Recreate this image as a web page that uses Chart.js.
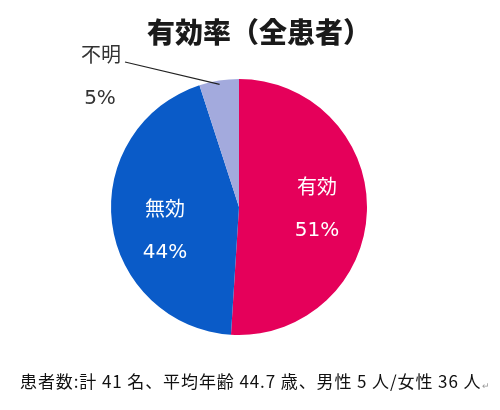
<!DOCTYPE html>
<html>
<head>
<meta charset="utf-8">
<script src="https://cdn.jsdelivr.net/npm/chart.js@4/dist/chart.umd.min.js"></script>
<style>
  html, body { margin: 0; padding: 0; background: #fff; }
  #wrap { position: relative; width: 500px; height: 410px; }
</style>
</head>
<body>
<div id="wrap"><canvas id="chart" width="500" height="410"></canvas></div>
<script>
// data
const categories = ["有効", "無効", "不明"];
const percents = [51, 44, 5];
const chartTitle = "有効率（全患者）";
const footnote = "患者数:計 41 名、平均年齢 44.7 歳、男性 5 人/女性 36 人";

const sliceColors = ["#E5005A", "#0A5BC8", "#A3AADD"];
const jpFont = "'Noto Sans CJK JP', 'Noto Sans', sans-serif";
const labelFont = "20px 'DejaVu Sans', 'Noto Sans CJK JP', sans-serif";

// draws title, slice labels, leader line and footnote
const labelPlugin = {
  id: "labels",
  afterDraw(chart) {
    const ctx = chart.ctx;
    const arcs = chart.getDatasetMeta(0).data;
    ctx.save();
    ctx.textAlign = "center";
    ctx.textBaseline = "middle";

    ctx.fillStyle = "#1a1a1a";
    ctx.font = "900 28px " + jpFont;
    ctx.fillText(chartTitle, 259, 32);

    arcs.forEach((arc, i) => {
      const p = arc.getProps(["x", "y", "startAngle", "endAngle", "outerRadius"], true);
      const mid = (p.startAngle + p.endAngle) / 2;
      ctx.font = labelFont;
      if (i < 2) {
        const a = mid + (i === 1 ? -0.2 : 0);
        const r = p.outerRadius * 0.61;
        const cx = p.x + Math.cos(a) * r;
        const cy = p.y + Math.sin(a) * r;
        ctx.fillStyle = "#fff";
        ctx.fillText(categories[i], cx, cy - 21);
        ctx.fillText(percents[i] + "%", cx, cy + 21);
      } else {
        // outside label with leader line
        const ex = p.x + Math.cos(mid) * p.outerRadius * 0.97;
        const ey = p.y + Math.sin(mid) * p.outerRadius * 0.97;
        ctx.strokeStyle = "#222";
        ctx.lineWidth = 1.2;
        ctx.beginPath();
        ctx.moveTo(125, 62);
        ctx.lineTo(ex, ey);
        ctx.stroke();
        ctx.fillStyle = "#333";
        ctx.fillText(categories[i], 101, 57);
        ctx.fillText(percents[i] + "%", 100, 99);
      }
    });

    ctx.textAlign = "left";
    ctx.fillStyle = "#111";
    ctx.font = "17px " + jpFont;
    ctx.letterSpacing = "0.9px";
    ctx.fillText(footnote, 20, 382);
    const w = ctx.measureText(footnote).width;
    ctx.letterSpacing = "0px";
    ctx.fillStyle = "#999";
    ctx.font = "9px " + jpFont;
    ctx.fillText("↵", 20 + w + 1, 386);
    ctx.restore();
  }
};

new Chart(document.getElementById("chart"), {
  type: "pie",
  data: {
    labels: categories,
    datasets: [{
      data: percents,
      backgroundColor: sliceColors,
      borderWidth: 0
    }]
  },
  options: {
    responsive: false,
    animation: false,
    layout: { padding: { left: 111, right: 133, top: 79, bottom: 75 } },
    plugins: {
      legend: { display: false },
      tooltip: { enabled: false }
    }
  },
  plugins: [labelPlugin]
});
</script>
</body>
</html>
